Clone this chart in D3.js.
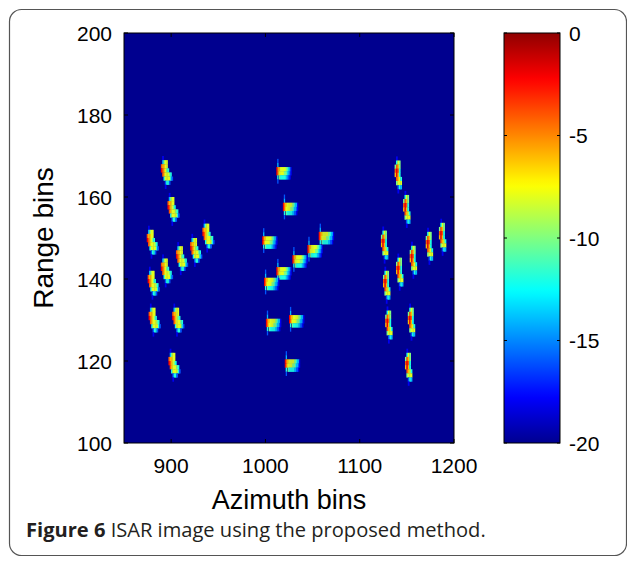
<!DOCTYPE html>
<html><head><meta charset="utf-8">
<script src="https://cdn.jsdelivr.net/npm/d3@7"></script>
<style>body{margin:0;background:#fff;}svg{display:block;}</style>
</head><body>
<script>
// ---- data ----
const xTicks = [900, 1000, 1100, 1200];
const yTicks = [100, 120, 140, 160, 180, 200];
const cbTicks = [0, -5, -10, -15, -20];
// scatterer groups (azimuth bin, range bin)
const leftAz = [894, 901, 879, 938, 925, 910, 894, 880, 881, 906, 902];
const leftRange = [166, 157, 149, 150.5, 147, 145, 142, 139, 130, 130, 119];
const midAz = [1012, 1019, 997, 1057, 1045, 1029, 1012, 999, 1001, 1025.5, 1021];
const midRange = [166.3, 157.6, 149.4, 150.5, 147.3, 144.8, 141.9, 139.3, 129.3, 130.2, 119.4];
const rightAz = [1140, 1149, 1125.5, 1187, 1173, 1156, 1141.5, 1127.7, 1130, 1154, 1151];
const rightRange = [165.4, 157, 148.3, 150.2, 148, 144.6, 141.7, 138.5, 128.8, 129.5, 118.5];
// blob shapes: one char per azimuth cell, one row per range bin; digit d -> -20 + 2d dB
const crescentL = [
  "..1.......",
  "..3566....",
  ".87766....",
  ".987654...",
  "..8766654.",
  "...4666642",
  "....2442..",
  "....1.....",
];
const crescentR = [
  "..1...",
  "..465.",
  ".5875.",
  ".8984.",
  ".7974.",
  "..8764",
  "..5666",
  "...243",
  "...1..",
];
const blockM = [
  ".2..............",
  ".3..............",
  "9877666666554331",
  "9876666655543321",
  ".4.544444433221.",
  ".2..............",
];

// ---- layout ----
const W = 627, H = 562;
const P = {l: 124, r: 454, t: 33, b: 443};
const CB = {l: 504, r: 560};

const svg = d3.select("body").append("svg").attr("width", W).attr("height", H);

// frame
svg.append("rect").attr("x", 9.5).attr("y", 9.5).attr("width", 617).attr("height", 546)
  .attr("rx", 12).attr("fill", "none").attr("stroke", "#555").attr("stroke-width", 1.2);

const x = d3.scaleLinear().domain([850, 1200]).range([P.l, P.r]);
const y = d3.scaleLinear().domain([100, 200]).range([P.b, P.t]);
const c = d3.scaleLinear().domain([-20, 0]).range([P.b, P.t]);

function jet(t) {
  t = 1 / 64 + Math.max(0, Math.min(1, t)) * 62 / 64;
  const f = v => Math.round(255 * Math.max(0, Math.min(1, v)));
  return `rgb(${f(1.5 - Math.abs(4 * t - 3))},${f(1.5 - Math.abs(4 * t - 2))},${f(1.5 - Math.abs(4 * t - 1))})`;
}
const colorOf = db => jet((db + 20) / 20);

// background
const defs = svg.append("defs");
defs.append("clipPath").attr("id", "clip").append("rect")
  .attr("x", P.l).attr("y", P.t).attr("width", P.r - P.l).attr("height", P.b - P.t);
svg.append("rect").attr("x", P.l).attr("y", P.t).attr("width", P.r - P.l).attr("height", P.b - P.t)
  .attr("fill", colorOf(-20));

const g = svg.append("g").attr("clip-path", "url(#clip)");
function drawGroup(azs, rgs, pat, ac, rc, cw) {
  const cells = [];
  azs.forEach((a, k) => {
    const r0 = rgs[k];
    pat.forEach((row, i) => {
      for (let j = 0; j < row.length; j++) {
        const ch = row[j];
        if (ch === ".") continue;
        cells.push({az: a + (j - ac) * cw, rg: r0 + (rc - i), db: -20 + 2 * (+ch)});
      }
    });
  });
  g.selectAll(null).data(cells).enter().append("rect")
    .attr("x", d => x(d.az - cw / 2))
    .attr("width", d => x(d.az + cw / 2) - x(d.az - cw / 2) + 0.35)
    .attr("y", d => y(d.rg + 0.5))
    .attr("height", d => y(d.rg - 0.5) - y(d.rg + 0.5) + 0.2)
    .attr("fill", d => colorOf(d.db));
}
drawGroup(leftAz, leftRange, crescentL, 4, 3.5, 1.4);
drawGroup(midAz, midRange, blockM, 0, 2.5, 1.0);
drawGroup(rightAz, rightRange, crescentR, 2.5, 4, 1.5);

// axes box & ticks
const font = "'Liberation Sans', Arial, sans-serif";
const tl = 4;
const ax = svg.append("g");
ax.append("rect").attr("x", P.l).attr("y", P.t).attr("width", P.r - P.l).attr("height", P.b - P.t)
  .attr("fill", "none").attr("stroke", "#000").attr("stroke-width", 1);
xTicks.forEach(v => {
  ax.append("line").attr("x1", x(v)).attr("x2", x(v)).attr("y1", P.b).attr("y2", P.b - tl).attr("stroke", "#000");
  ax.append("line").attr("x1", x(v)).attr("x2", x(v)).attr("y1", P.t).attr("y2", P.t + tl).attr("stroke", "#000");
  ax.append("text").attr("x", x(v)).attr("y", P.b + 30).attr("text-anchor", "middle")
    .attr("font-family", font).attr("font-size", 21).text(v);
});
yTicks.forEach(v => {
  ax.append("line").attr("x1", P.l).attr("x2", P.l + tl).attr("y1", y(v)).attr("y2", y(v)).attr("stroke", "#000");
  ax.append("line").attr("x1", P.r).attr("x2", P.r - tl).attr("y1", y(v)).attr("y2", y(v)).attr("stroke", "#000");
  ax.append("text").attr("x", P.l - 12).attr("y", y(v) + 7.5).attr("text-anchor", "end")
    .attr("font-family", font).attr("font-size", 21).text(v);
});
svg.append("text").attr("x", (P.l + P.r) / 2).attr("y", 509).attr("text-anchor", "middle")
  .attr("font-family", font).attr("font-size", 27).text("Azimuth bins");
svg.append("text").attr("transform", `translate(53,${(P.t + P.b) / 2}) rotate(-90)`).attr("text-anchor", "middle")
  .attr("font-family", font).attr("font-size", 28).text("Range bins");

// colorbar
const grad = defs.append("linearGradient").attr("id", "cbg").attr("x1", 0).attr("x2", 0).attr("y1", 1).attr("y2", 0);
d3.range(0, 65).forEach(i => grad.append("stop").attr("offset", i / 64).attr("stop-color", jet(i / 64)));
svg.append("rect").attr("x", CB.l).attr("y", P.t).attr("width", CB.r - CB.l).attr("height", P.b - P.t)
  .attr("fill", "url(#cbg)").attr("stroke", "#000").attr("stroke-width", 1);
cbTicks.forEach(v => {
  svg.append("line").attr("x1", CB.l).attr("x2", CB.l + 3).attr("y1", c(v)).attr("y2", c(v)).attr("stroke", "#000");
  svg.append("line").attr("x1", CB.r).attr("x2", CB.r - 3).attr("y1", c(v)).attr("y2", c(v)).attr("stroke", "#000");
  svg.append("text").attr("x", CB.r + 9).attr("y", c(v) + 7.5)
    .attr("font-family", font).attr("font-size", 21).text(v);
});

// caption
const cap = svg.append("text").attr("x", 26).attr("y", 537).attr("font-family", "'Open Sans', sans-serif")
  .attr("font-size", 20.1).attr("fill", "#231f20");
cap.append("tspan").attr("font-weight", "bold").text("Figure 6");
cap.append("tspan").text(" ISAR image using the proposed method.");
</script>
</body></html>
